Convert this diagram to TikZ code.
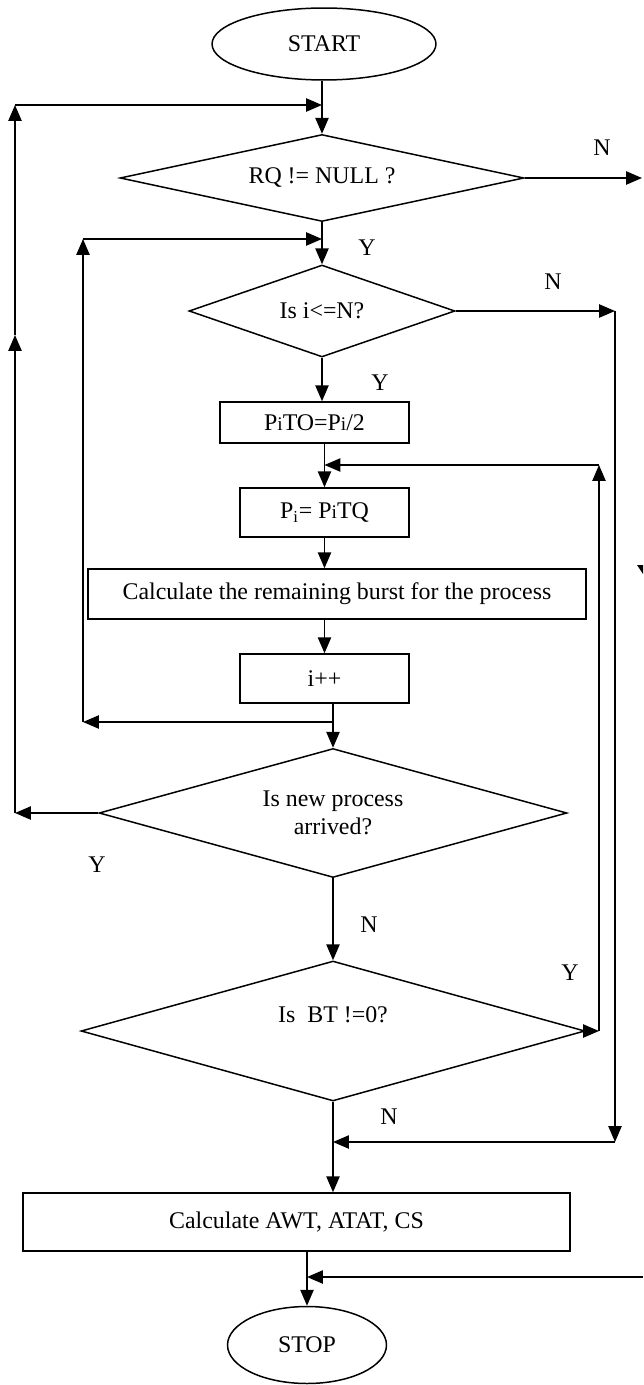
\documentclass[tikz,border=0pt]{standalone}
\usepackage{fontspec}
\setmainfont{Liberation Serif}
\usetikzlibrary{positioning,arrows.meta,shapes.geometric,calc}
\newcommand{\idx}{{\fontsize{11}{12}\selectfont i}}
\tikzset{
  fcterm/.style={ellipse, draw=black, line width=0.85pt, inner sep=0pt},
  fcproc/.style={rectangle, draw=black, line width=0.85pt, inner sep=0pt},
  fcdec/.style={diamond, draw=black, line width=0.85pt, inner sep=0pt, align=center, aspect=3.5},
  fcseta/.style={-{Triangle[length=9pt, width=7.5pt]}, line width=0.85pt},
  fcrotulo/.style={inner sep=0pt},
}

\begin{document}
\begin{tikzpicture}[x=0.02cm, y=-0.02cm, font=\fontsize{13.6}{16}\selectfont]
    \useasboundingbox (0,0) rectangle (643,1385);
    % blocos do fluxograma
    \node[fcterm, minimum width=4.48cm, minimum height=1.44cm] (start) at (324,44) {START};
    \node[fcdec, aspect=4.64, minimum width=8.08cm, minimum height=1.74cm] (rq) at (322,178) {RQ != NULL ?};
    \node[fcdec, aspect=2.9, minimum width=5.32cm, minimum height=1.84cm] (isn) at (322,311) {Is i<=N?};
    \node[fcproc, minimum width=3.78cm, minimum height=0.82cm] (pito) at (314.5,422.5) {P\idx TO=P\idx/2};
    \node[fcproc, minimum width=3.38cm, minimum height=0.98cm] (pi) at (324.5,512.5) {P\textsubscript{i}= P\idx TQ};
    \node[fcproc, minimum width=9.96cm, minimum height=1.0cm] (burst) at (337,594) {Calculate the remaining burst for the process};
    \node[fcproc, minimum width=3.38cm, minimum height=0.98cm] (inc) at (324.5,678.5) {i++};
    \node[fcdec, aspect=3.63, minimum width=9.36cm, minimum height=2.58cm] (newp) at (333,813) {Is new process\\arrived?};
    \node[fcdec, aspect=3.6, minimum width=10.08cm, minimum height=2.8cm] (bt) at (333,1031) {\raisebox{0.64cm}{Is~~BT !=0?}};
    \node[fcproc, minimum width=10.94cm, minimum height=1.16cm] (calc) at (296.5,1222) {Calculate AWT, ATAT, CS};
    \node[fcterm, minimum width=3.18cm, minimum height=1.54cm] (stop) at (307,1345) {STOP};
    % pontos de juncao
    \coordinate (j1) at (322,105);
    \coordinate (j2) at (322,239);
    \coordinate (j3) at (333,722);
    \coordinate (j4) at (324.5,465);
    \coordinate (j5) at (333,1142);
    \coordinate (j6) at (307,1277);
    \coordinate (o1) at (15,813);
    \coordinate (o2) at (15,335);
    \coordinate (o3) at (15,105);
    \coordinate (i1) at (83,722);
    \coordinate (i2) at (83,239);
    \coordinate (r1) at (642,178);
    \coordinate (r2) at (615,311);
    \coordinate (r3) at (615,1142);
    \coordinate (r4) at (599,1031);
    \coordinate (r5) at (599,465);
    \coordinate (r6) at (643,1277);
    % tronco principal
    \draw[fcseta] (rq.north |- start.south) -- (rq.north);
    \draw[fcseta] (rq.south) -- (isn.north);
    \draw[fcseta] (isn.south) -- (isn.south |- pito.north);
    \draw[fcseta] (pi.north |- pito.south) -- (pi.north);
    \draw[fcseta] (pi.south) -- (pi.south |- burst.north);
    \draw[fcseta] (inc.north |- burst.south) -- (inc.north);
    \draw[fcseta] (newp.north |- inc.south) -- (newp.north);
    \draw[fcseta] (newp.south) -- (bt.north);
    \draw[fcseta] (bt.south) -- (bt.south |- calc.north);
    \draw[fcseta] (stop.north |- calc.south) -- (stop.north);
    % laco externo (novo processo)
    \draw[fcseta] (newp.west) -- (o1);
    \draw[fcseta] (o1) -- (o2);
    \draw[fcseta] (o2) -- (o3);
    \draw[fcseta] (o3) -- (j1);
    % laco interno (i++)
    \draw[fcseta] (j3) -- (i1);
    \draw[fcseta] (i1) -- (i2);
    \draw[fcseta] (i2) -- (j2);
    % saidas pela direita
    \draw[fcseta] (rq.east) -- (r1);
    \draw[fcseta] (isn.east) -- (r2);
    \draw[fcseta] (r2) -- (r3);
    \draw[fcseta] (r3) -- (j5);
    \draw[fcseta] (bt.east) -- (r4);
    \draw[fcseta] (r4) -- (r5);
    \draw[fcseta] (r5) -- (j4);
    \draw[fcseta] (r6) -- (j6);
    \fill (637,565) -- (643,565) -- (643,574) -- cycle;
    % rotulos Y/N
    \node[fcrotulo] (n1) at (602,148) {N};
    \node[fcrotulo] (y1) at (367,248) {Y};
    \node[fcrotulo] (n2) at (553,282) {N};
    \node[fcrotulo] (y2) at (380,383) {Y};
    \node[fcrotulo] (y3) at (97,865) {Y};
    \node[fcrotulo] (n3) at (369,925) {N};
    \node[fcrotulo] (y4) at (570,973) {Y};
    \node[fcrotulo] (n4) at (389,1117) {N};
\end{tikzpicture}
\end{document}
